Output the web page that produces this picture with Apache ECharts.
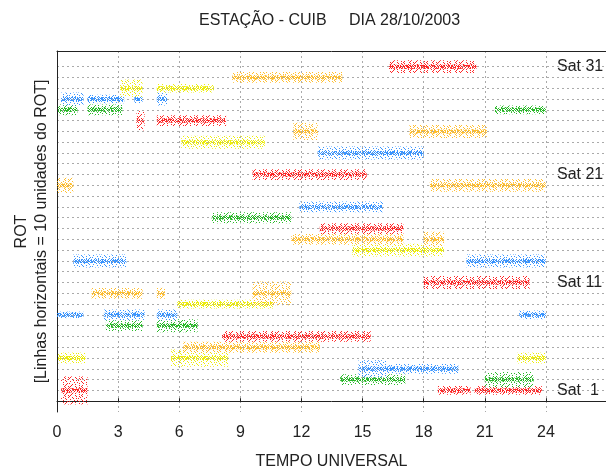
<!DOCTYPE html>
<html lang="pt">

<head>
  <meta charset="UTF-8">
  <title>ROT - CUIB 28/10/2003</title>
  <style>
    html,
    body {
      margin: 0;
      padding: 0;
      overflow: hidden;
      background: #fff;
    }

    #chart {
      width: 606px;
      height: 470px;
    }
  </style>
</head>

<body>
  <div id="chart"></div>
</body>
<script src="https://cdn.jsdelivr.net/npm/echarts@6/dist/echarts.min.js"></script>
<script>
  // eixo x: tempo universal (h)
  const xTicks = [0, 3, 6, 9, 12, 15, 18, 21, 24];
  // rotulos dos satelites a direita
  const satLabelValues = [1, 11, 21, 31];
  const satLabelTexts = ['Sat  1', 'Sat 11', 'Sat 21', 'Sat 31'];
  // cores por satelite (ciclo de 5)
  const satColors = ['#ff1a1a', '#1fb51f', '#2f8fff', '#ecec00', '#ffbb22'];

  // passagens: [satelite, inicio (h), fim (h), dispersao (unid. de linha)]
  const passes = [
    [1, 0.2, 1.5, 1.3], [1, 18.7, 20.3, 0.4], [1, 20.5, 23.8, 0.4],
    [2, 13.9, 17.1, 0.5], [2, 21.0, 23.4, 0.7],
    [3, 14.8, 16.2, 0.8], [3, 16.2, 19.7, 0.45],
    [4, 0.05, 1.4, 0.5], [4, 5.6, 8.4, 0.8], [4, 22.6, 24.0, 0.5],
    [5, 6.2, 12.9, 0.5],
    [6, 8.1, 15.4, 0.5],
    [7, 2.4, 4.2, 0.5], [7, 4.9, 6.9, 0.6],
    [8, 0.0, 1.3, 0.3], [8, 2.3, 4.3, 0.5], [8, 4.9, 5.9, 0.5], [8, 22.7, 24.0, 0.4],
    [9, 5.9, 10.6, 0.4],
    [10, 1.7, 4.2, 0.5], [10, 4.9, 5.3, 0.5], [10, 9.6, 11.5, 1.1],
    [11, 18.0, 23.2, 0.6],
    [13, 0.8, 3.4, 0.6], [13, 20.1, 24.0, 0.6],
    [14, 14.5, 19.0, 0.6],
    [15, 11.5, 17.0, 0.5], [15, 18.0, 19.0, 0.7],
    [16, 12.9, 17.0, 0.5],
    [17, 7.6, 11.5, 0.5],
    [18, 11.9, 16.0, 0.5],
    [20, 0.0, 0.8, 0.7], [20, 18.3, 24.0, 0.6],
    [21, 9.6, 15.2, 0.5],
    [23, 12.8, 18.0, 0.6],
    [24, 6.1, 10.2, 0.6],
    [25, 11.6, 12.8, 0.8], [25, 17.3, 21.1, 0.6],
    [26, 3.9, 4.3, 0.9], [26, 4.9, 8.3, 0.5],
    [27, 0.05, 1.0, 0.5], [27, 1.5, 3.2, 0.5], [27, 21.5, 24.0, 0.4],
    [28, 0.2, 1.3, 0.6], [28, 1.5, 3.3, 0.4], [28, 3.8, 4.2, 0.4], [28, 4.9, 5.4, 0.6],
    [29, 3.1, 4.2, 0.8], [29, 4.9, 7.7, 0.4],
    [30, 8.6, 14.0, 0.5],
    [31, 16.3, 20.6, 0.6]
  ];

  // texturas de pontos (estilo) para imitar o espalhamento do ROT
  const sparseTile = [
    '#......#..#..#.....#...',
    '...#.......#.....#....#',
    '....#..#.#.....#...#...',
    '.#..........#.......#..',
    '.....#..#....#...#.....',
    '#.........#...#......#.',
    '...#..#..........#..#..',
    '..#.......#..#.....#...',
    '.#....#.....#.....#...#'
  ];
  const denseTile = [
    '#.##.#..#.##.#.#.',
    '.#..#.##.#..#.#.#',
    '#.#..#.#.##..#.##',
    '.#.#..#..#.#.#..#'
  ];

  function makePattern(color, rows) {
    const c = document.createElement('canvas');
    c.width = rows[0].length;
    c.height = rows.length;
    const ctx = c.getContext('2d');
    ctx.fillStyle = color;
    ctx.globalAlpha = 0.95;
    rows.forEach(function (row, y) {
      for (let x = 0; x < row.length; x++) {
        if (row[x] === '#') ctx.fillRect(x, y, 1, 1);
      }
    });
    return { image: c, repeat: 'repeat' };
  }

  const halo = satColors.map(function (c) { return makePattern(c, sparseTile); });
  const core = satColors.map(function (c) { return makePattern(c, denseTile); });

  const xMax = 26.95;
  const gridLine = { show: true, showMinLine: false, showMaxLine: false, lineStyle: { color: '#aaa', type: [2, 3], width: 1 } };
  const font = { fontFamily: 'Liberation Sans', fontSize: 16, color: '#222' };

  const myChart = echarts.init(document.querySelector('#chart'), null, { renderer: 'canvas' });

  const option = {
    animation: false,
    backgroundColor: '#fff',
    title: {
      text: 'ESTAÇÃO - CUIB     DIA 28/10/2003',
      left: 199,
      top: 13,
      padding: 0,
      textStyle: Object.assign({}, font, { fontWeight: 'normal' })
    },
    grid: [
      { left: 57, right: 0, top: 51, bottom: 58, outerBoundsMode: 'none' },
      { left: 57, right: 0, top: 66.6, bottom: 79.6, outerBoundsMode: 'none' }
    ],
    xAxis: [
      {
        gridIndex: 0, type: 'value', min: 0, max: xMax, interval: 3,
        name: 'TEMPO UNIVERSAL', nameLocation: 'middle', nameGap: 42,
        nameTextStyle: font,
        axisLine: { show: true, lineStyle: { color: '#222', width: 1 } },
        axisTick: { show: true, inside: true, length: 3, lineStyle: { color: '#222' } },
        axisLabel: Object.assign({
          margin: 13, showMaxLabel: false,
          formatter: function (v) { return xTicks.indexOf(v) >= 0 ? String(v) : ''; }
        }, font),
        splitLine: gridLine
      },
      {
        gridIndex: 0, type: 'value', position: 'top', min: 0, max: xMax, interval: 3,
        axisLine: { show: true, lineStyle: { color: '#222', width: 1 } },
        axisTick: { show: false }, axisLabel: { show: false }, splitLine: { show: false }
      },
      {
        gridIndex: 1, type: 'value', min: 0, max: xMax, show: false
      }
    ],
    yAxis: [
      {
        gridIndex: 0, type: 'value', min: -1, max: 32.45,
        name: 'ROT\n[Linhas horizontais = 10 unidades do ROT]',
        nameLocation: 'middle', nameRotate: 90, nameGap: 5,
        nameTextStyle: Object.assign({}, font, { lineHeight: 20 }),
        axisLine: { show: true, lineStyle: { color: '#222', width: 1 } },
        axisTick: { show: false }, axisLabel: { show: false }, splitLine: { show: false }
      },
      {
        gridIndex: 1, type: 'value', min: 1, max: 31, interval: 1, position: 'right',
        axisLine: { show: false }, axisTick: { show: false },
        axisLabel: Object.assign({
          inside: true, align: 'left', margin: 49,
          formatter: function (v) {
            const i = satLabelValues.indexOf(v);
            return i >= 0 ? satLabelTexts[i] : '';
          }
        }, font),
        splitLine: { show: true, lineStyle: { color: '#aaa', type: [2, 3], width: 1 } }
      }
    ],
    series: [
      {
        type: 'custom',
        xAxisIndex: 0,
        yAxisIndex: 0,
        data: passes,
        encode: { x: [1, 2], y: 0 },
        renderItem: function (params, api) {
          const sat = api.value(0);
          const p0 = api.coord([api.value(1), sat]);
          const p1 = api.coord([api.value(2), sat]);
          const unit = api.size([0, 1])[1];
          const h = api.value(3) * unit;
          const ci = (sat - 1) % satColors.length;
          return {
            type: 'group',
            children: [
              {
                type: 'rect',
                shape: { x: p0[0], y: p0[1] - h, width: p1[0] - p0[0], height: 2 * h },
                style: { fill: halo[ci] }
              },
              {
                type: 'rect',
                shape: { x: p0[0], y: p0[1] - 2, width: p1[0] - p0[0], height: 4 },
                style: { fill: core[ci] }
              }
            ]
          };
        }
      }
    ]
  };

  myChart.setOption(option);
</script>

</html>
